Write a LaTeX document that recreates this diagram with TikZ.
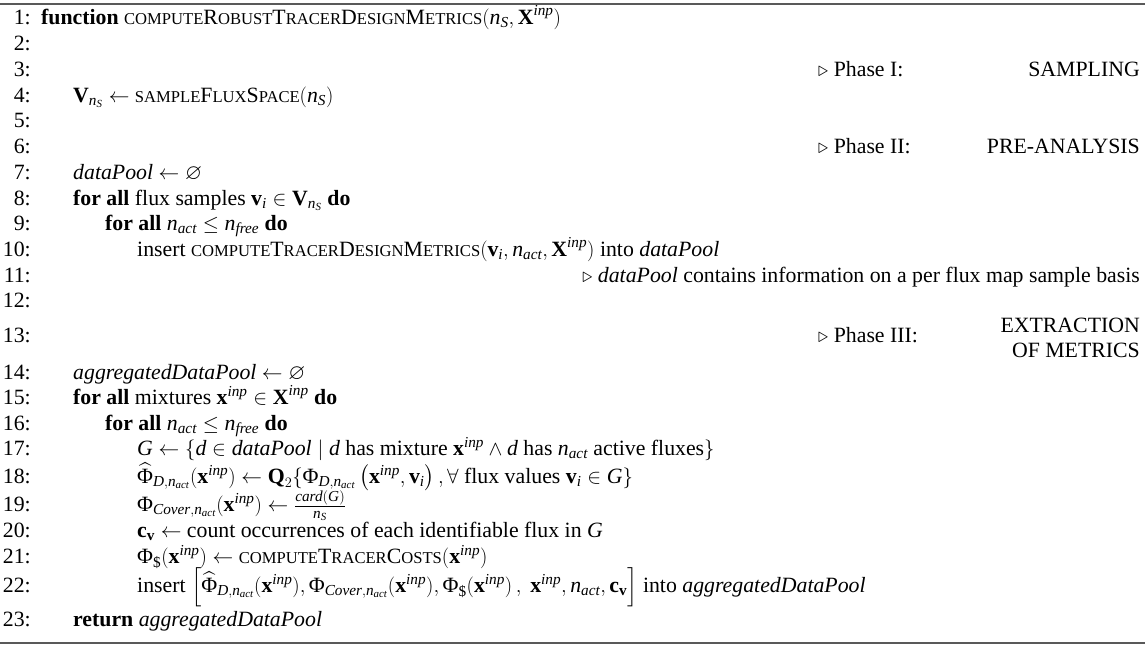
\documentclass[tikz,border=0pt]{standalone}
\usepackage{amsmath,amssymb}
\usepackage{fontspec}
\setmainfont{Liberation Serif}
\newcommand{\itx}[1]{\text{\normalfont\itshape #1}}
\newcommand{\bfx}[1]{\text{\normalfont\bfseries #1}}
\newcommand{\sm}[1]{{\fontsize{16.6}{17}\selectfont #1}}
\newcommand{\nS}{\itx{n}_{\itx{S}}}
\newcommand{\nact}{\itx{n}_{\itx{act}}}
\newcommand{\nfree}{\itx{n}_{\itx{free}}}
\newcommand{\Xinp}{\bfx{X}^{\itx{inp}}}
\newcommand{\xinp}{\bfx{x}^{\itx{inp}}}
\newcommand{\Phx}{\text{\normalfont Φ}}
\newcommand{\vi}{\bfx{v}_{\itx{i}}}
\definecolor{rulegray}{gray}{0.35}
\begin{document}
\begin{tikzpicture}[x=1pt,y=-1pt,
  every node/.style={inner sep=0pt, font=\fontsize{21.8}{25}\selectfont},
  num/.style={anchor=mid east},
  code/.style={anchor=mid west},
  cmt/.style={anchor=mid east}]
\useasboundingbox (0,0) rectangle (1145,648);
\coordinate (topl) at (0,4);
\coordinate (topr) at (1145,4);
\coordinate (botl) at (0,643);
\coordinate (botr) at (1145,643);
\draw[rulegray, line width=1.6pt] (topl) -- (topr);
\draw[rulegray, line width=1.6pt] (botl) -- (botr);
% line numbers
\node[num] (ln1) at (31,22){1:};
\node[num] (ln2) at (31,48){2:};
\node[num] (ln3) at (31,74){3:};
\node[num] (ln4) at (31,100){4:};
\node[num] (ln5) at (31,125){5:};
\node[num] (ln6) at (31,151){6:};
\node[num] (ln7) at (31,177){7:};
\node[num] (ln8) at (31,203){8:};
\node[num] (ln9) at (31,228){9:};
\node[num] (ln10) at (31,254){10:};
\node[num] (ln11) at (31,280){11:};
\node[num] (ln12) at (31,305){12:};
\node[num] (ln13) at (31,340){13:};
\node[num] (ln14) at (31,377){14:};
\node[num] (ln15) at (31,402){15:};
\node[num] (ln16) at (31,428){16:};
\node[num] (ln17) at (31,453){17:};
\node[num] (ln18) at (31,481){18:};
\node[num] (ln19) at (31,509){19:};
\node[num] (ln20) at (31,535){20:};
\node[num] (ln21) at (31,561){21:};
\node[num] (ln22) at (31,590){22:};
\node[num] (ln23) at (31,624){23:};
% code
\node[code] (tx1) at (41,22){\textbf{function} \sm{COMPUTE}R\sm{OBUST}T\sm{RACER}D\sm{ESIGN}M\sm{ETRICS}$(\nS, \Xinp)$};
\node[code] (ph1) at (818,74){$\triangleright$ Phase I:};
\node[cmt] (cm1) at (1140,74){SAMPLING};
\node[code] (tx4) at (73,100){$\bfx{V}_{\nS} \leftarrow$ \sm{SAMPLE}F\sm{LUX}S\sm{PACE}$(\nS)$};
\node[code] (ph2) at (818,151){$\triangleright$ Phase II:};
\node[cmt] (cm2) at (1140,151){PRE-ANALYSIS};
\node[code] (tx7) at (73,177){\textit{dataPool} $\leftarrow \varnothing$};
\node[code] (tx8) at (73,203){\textbf{for all} flux samples $\vi \in \bfx{V}_{\nS}$ \textbf{do}};
\node[code] (tx9) at (105,228){\textbf{for all} $\nact \leq \nfree$ \textbf{do}};
\node[code] (tx10) at (137,254){insert \sm{COMPUTE}T\sm{RACER}D\sm{ESIGN}M\sm{ETRICS}$(\vi, \nact, \Xinp)$ into \textit{dataPool}};
\node[cmt] (cm11) at (1140,280){$\triangleright$ \textit{dataPool} contains information on a per flux map sample basis};
\node[code] (ph3) at (818,340){$\triangleright$ Phase III:};
\node[anchor=east, align=right] (cm3) at (1140,338){EXTRACTION\\OF METRICS};
\node[code] (tx14) at (73,377){\textit{aggregatedDataPool} $\leftarrow \varnothing$};
\node[code] (tx15) at (73,402){\textbf{for all} mixtures $\xinp \in \Xinp$ \textbf{do}};
\node[code] (tx16) at (105,428){\textbf{for all} $\nact \leq \nfree$ \textbf{do}};
\node[code] (tx17) at (137,453){$\itx{G} \leftarrow \{\itx{d} \in \itx{dataPool} \mid \itx{d}$ has mixture $\xinp \wedge \itx{d}$ has $\nact$ active fluxes$\}$};
\node[code] (tx18) at (137,481){$\widehat{\Phx}_{\itx{D},\nact}(\xinp) \leftarrow \bfx{Q}_{2}\{\Phx_{\itx{D},\nact}\left(\xinp, \vi\right), \forall$ flux values $\vi \in \itx{G}\}$};
\node[code] (tx19) at (137,509){$\Phx_{\itx{Cover},\nact}(\xinp) \leftarrow \frac{\itx{card}(\itx{G})}{\nS}$};
\node[code] (tx20) at (137,535){$\bfx{c}_{\bfx{v}} \leftarrow$ count occurrences of each identifiable flux in $\itx{G}$};
\node[code] (tx21) at (137,561){$\Phx_{\text{\normalfont\$}}(\xinp) \leftarrow$ \sm{COMPUTE}T\sm{RACER}C\sm{OSTS}$(\xinp)$};
\node[code] (tx22) at (137,590){insert $\Big[\widehat{\Phx}_{\itx{D},\nact}(\xinp), \Phx_{\itx{Cover},\nact}(\xinp), \Phx_{\text{\normalfont\$}}(\xinp)\,,\ \xinp, \nact, \bfx{c}_{\bfx{v}}\Big]$ into \textit{aggregatedDataPool}};
\node[code] (tx23) at (73,624){\textbf{return} \textit{aggregatedDataPool}};
\end{tikzpicture}
\end{document}
